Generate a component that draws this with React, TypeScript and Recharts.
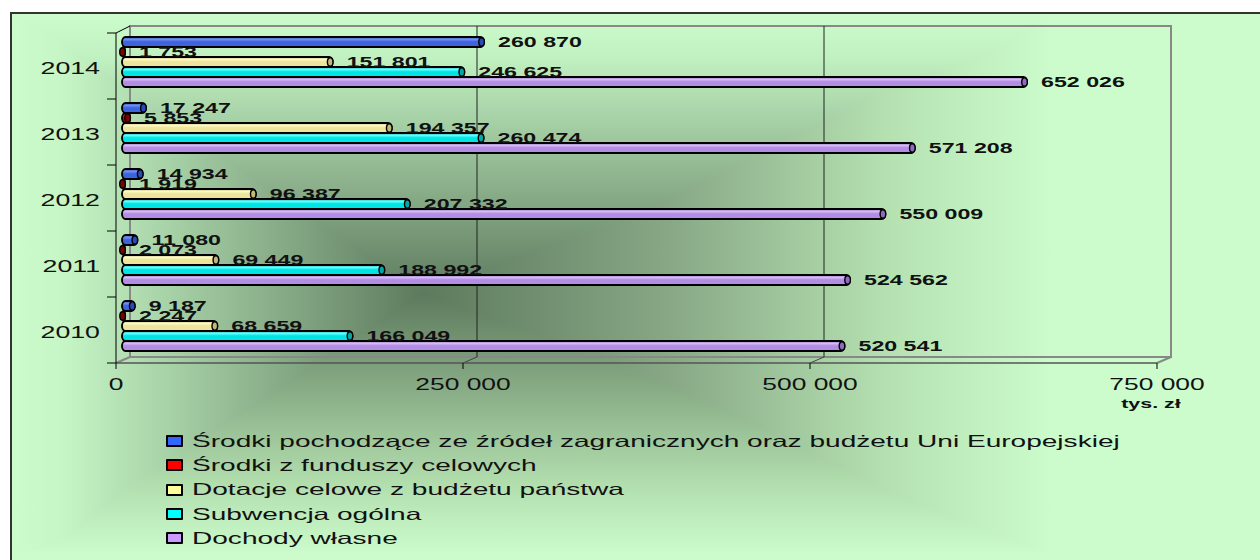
import { Bar, BarChart, CartesianGrid, LabelList, Legend, XAxis, YAxis } from "recharts";

const years = ['2014', '2013', '2012', '2011', '2010'];
const srodkiUE = [260870, 17247, 14934, 11080, 9187];
const funduszeCelowe = [1753, 5853, 1919, 2073, 2247];
const dotacjeCelowe = [151801, 194357, 96387, 69449, 68659];
const subwencja = [246625, 260474, 207332, 188992, 166049];
const dochodyWlasne = [652026, 571208, 550009, 524562, 520541];

const seriesNames = [
  'Środki pochodzące ze źródeł zagranicznych oraz budżetu Uni Europejskiej',
  'Środki z funduszy celowych',
  'Dotacje celowe z budżetu państwa',
  'Subwencja ogólna',
  'Dochody własne',
];
const seriesKeys = ['ue', 'fundusze', 'dotacje', 'subwencja', 'dochody'];
const xTicks = [0, 250000, 500000, 750000];
const unitLabel = 'tys. zł';

const data = years.map((year, i) => ({
  year,
  ue: srodkiUE[i],
  fundusze: funduszeCelowe[i],
  dotacje: dotacjeCelowe[i],
  subwencja: subwencja[i],
  dochody: dochodyWlasne[i],
}));

// legend swatch colours / cylinder colours [edge, highlight, body, cap]
const legendColors = ['#3366ff', '#ff0000', '#ffff99', '#00ffff', '#cc99ff'];
const barColors = [
  ['#2544a8', '#7593f2', '#3c64dc', '#2a4ab8'],
  ['#700000', '#ff3030', '#c00000', '#800000'],
  ['#b8b070', '#fffbc8', '#ede59c', '#c2b878'],
  ['#00a0a0', '#70ffff', '#00e4e4', '#00a8a8'],
  ['#8060b0', '#d8c0f6', '#b38ce4', '#8f6ac0'],
];

const FONT = "'Liberation Sans', Arial, sans-serif";
const STRETCH = 1.65;
const DX = 14; // depth of the 3D box
const DY = 7;

const fmt = (v: number) => String(v).replace(/\B(?=(\d{3})+(?!\d))/g, ' ');

const Cylinder = (props: any) => {
  const { x = 0, y = 0, width = 0, height = 0, ci } = props;
  const w = Math.max(width, 3);
  const c = barColors[ci];
  return (
    <g transform="translate(6,-3)">
      <rect x={x} y={y} width={w} height={height} rx={3.5} ry={height / 2}
        fill={`url(#cyl-${ci})`} stroke="#000" strokeWidth={1.9} />
      <ellipse cx={x + w - 2.5} cy={y + height / 2} rx={2.8} ry={height / 2 - 0.8}
        fill={c[3]} stroke="#000" strokeWidth={1.4} />
    </g>
  );
};

const ValueLabel = (props: any) => {
  const { x = 0, y = 0, width = 0, height = 0, value } = props;
  const tx = x + Math.max(width, 3) + 6 + 14;
  const ty = y + height / 2 - 3 + 4.5;
  return (
    <text transform={`translate(${tx},${ty}) scale(1.6,1)`} fontSize={14.5} fontWeight="bold"
      fontFamily={FONT} fill="#111">
      {fmt(Number(value))}
    </text>
  );
};

const YearTick = (props: any) => {
  const { x, y, payload, index, visibleTicksCount } = props;
  const half = payload?.offset || 33;
  const ax = x + 16;
  return (
    <g>
      <line x1={ax - 9} x2={ax} y1={y - half} y2={y - half} stroke="#000" />
      {index === visibleTicksCount - 1 && (
        <line x1={ax - 9} x2={ax} y1={y + half} y2={y + half} stroke="#000" />
      )}
      <text transform={`translate(${x},${y + 8}) scale(1.62,1)`} textAnchor="end"
        fontSize={16.5} fontFamily={FONT} fill="#111">
        {payload.value}
      </text>
    </g>
  );
};

const ValueTick = (props: any) => {
  const { x, y, payload } = props;
  return (
    <text transform={`translate(${x},${y + 19}) scale(${STRETCH},1)`} textAnchor="middle"
      fontSize={16} fontFamily={FONT} fill="#111">
      {fmt(payload.value)}
    </text>
  );
};

const UnitLabel = (props: any) => {
  const vb = props.viewBox || {};
  const x = (vb.x || 0) + (vb.width || 0) - 6;
  const y = (vb.y || 0) + 45;
  return (
    <text transform={`translate(${x},${y}) scale(${STRETCH},1)`} textAnchor="middle"
      fontSize={13} fontWeight="bold" fontFamily={FONT} fill="#111">
      {unitLabel}
    </text>
  );
};

const GridLine = (props: any) => {
  const { x1, y1, y2, x, y, width, height, index } = props;
  const isEdge = Math.abs(x1 - x) < 1 || Math.abs(x1 - (x + width)) < 1;
  return (
    <g>
      {index === 0 && (
        <g fill="none">
          <rect x={x + DX} y={y - DY} width={width} height={height + 1} stroke="#888" strokeWidth={2} />
          <line x1={x} y1={y} x2={x + DX} y2={y - DY} stroke="#000" />
          <line x1={x} y1={y + height} x2={x + DX} y2={y + height - 6} stroke="#888" strokeWidth={2} />
          <line x1={x + width} y1={y + height} x2={x + width + DX} y2={y + height - 6} stroke="#888" strokeWidth={2} />
        </g>
      )}
      {!isEdge && (
        <g>
          <line x1={x1 + DX} y1={y1 - DY} x2={x1 + DX} y2={y2 - 6} stroke="#222" strokeWidth={1} />
          <line x1={x1 + DX} y1={y2 - 6} x2={x1} y2={y2} stroke="#444" strokeWidth={1} />
        </g>
      )}
    </g>
  );
};

const LegendList = (props: any) => {
  const payload = [...(props.payload || [])].sort(
    (a: any, b: any) => seriesKeys.indexOf(a.dataKey) - seriesKeys.indexOf(b.dataKey)
  );
  return (
    <div style={{ fontFamily: FONT, fontSize: 16.5, color: '#111' }}>
      {payload.map((entry: any, i: number) => (
        <div key={`leg-${i}`} style={{ height: 24.3, display: 'flex', alignItems: 'center' }}>
          <span style={{ width: 13, height: 8, border: '2px solid #000', borderRadius: 1,
            background: entry.color, flex: 'none' }} />
          <span style={{ marginLeft: 9, display: 'inline-block', transform: 'scaleX(1.7)',
            transformOrigin: 'left center', whiteSpace: 'nowrap' }}>
            {entry.value}
          </span>
        </div>
      ))}
    </div>
  );
};

function App() {
  return (
    <div style={{ position: 'relative', width: 1260, height: 560, overflow: 'hidden' }}>
      <style>{'body{margin:0;overflow:hidden}'}</style>
      <div
        style={{
          position: 'absolute',
          left: 10,
          top: 12,
          width: 1260,
          height: 560,
          borderTop: '2px solid #333',
          borderLeft: '2px solid #333',
          backgroundImage:
            'linear-gradient(to right, #ccfccc 0px, #c6f6c6 50px, #5e7a5e 410px, #86a684 650px, #b6e2b2 880px, #ccfccc 1040px),' +
            'linear-gradient(to bottom, #ccfccc 0px, #c2f2c2 40px, #5e7a5e 280px, #b2deae 470px, #ccfccc 540px)',
          backgroundBlendMode: 'lighten',
        }}
      />
      <BarChart
        width={1260}
        height={560}
        data={data}
        layout="vertical"
        margin={{ top: 33, right: 103, bottom: 167, left: 0 }}
        barCategoryGap={7}
        barGap={0}
      >
        <defs>
          {barColors.map((c, i) => (
            <linearGradient key={`g-${i}`} id={`cyl-${i}`} x1="0" y1="0" x2="0" y2="1">
              <stop offset="0%" stopColor={c[0]} />
              <stop offset="22%" stopColor={c[1]} />
              <stop offset="48%" stopColor={c[2]} />
              <stop offset="85%" stopColor={c[2]} />
              <stop offset="100%" stopColor={c[0]} />
            </linearGradient>
          ))}
        </defs>
        <CartesianGrid horizontal={false} vertical={GridLine} />
        <XAxis
          type="number"
          domain={[0, 750000]}
          ticks={xTicks}
          interval={0}
          axisLine={{ stroke: '#555', strokeWidth: 1.5 }}
          tickLine={{ stroke: '#000' }}
          tickSize={6}
          tickMargin={2}
          tick={ValueTick}
          height={30}
          label={UnitLabel}
        />
        <YAxis
          type="category"
          dataKey="year"
          width={116}
          axisLine={{ stroke: '#000' }}
          tickLine={false}
          tickSize={9}
          tickMargin={7}
          tick={YearTick}
          interval={0}
        />
        <Legend
          layout="horizontal"
          verticalAlign="middle"
          align="center"
          wrapperStyle={{ left: 166, top: 429, width: 1000, height: 125 }}
          content={LegendList}
        />
        {seriesKeys.map((key, i) => (
          <Bar
            key={key}
            dataKey={key}
            name={seriesNames[i]}
            fill={legendColors[i]}
            isAnimationActive={false}
            shape={(p: any) => <Cylinder {...p} ci={i} />}
          >
            <LabelList dataKey={key} content={ValueLabel} />
          </Bar>
        ))}
      </BarChart>
    </div>
  );
}

export default App
